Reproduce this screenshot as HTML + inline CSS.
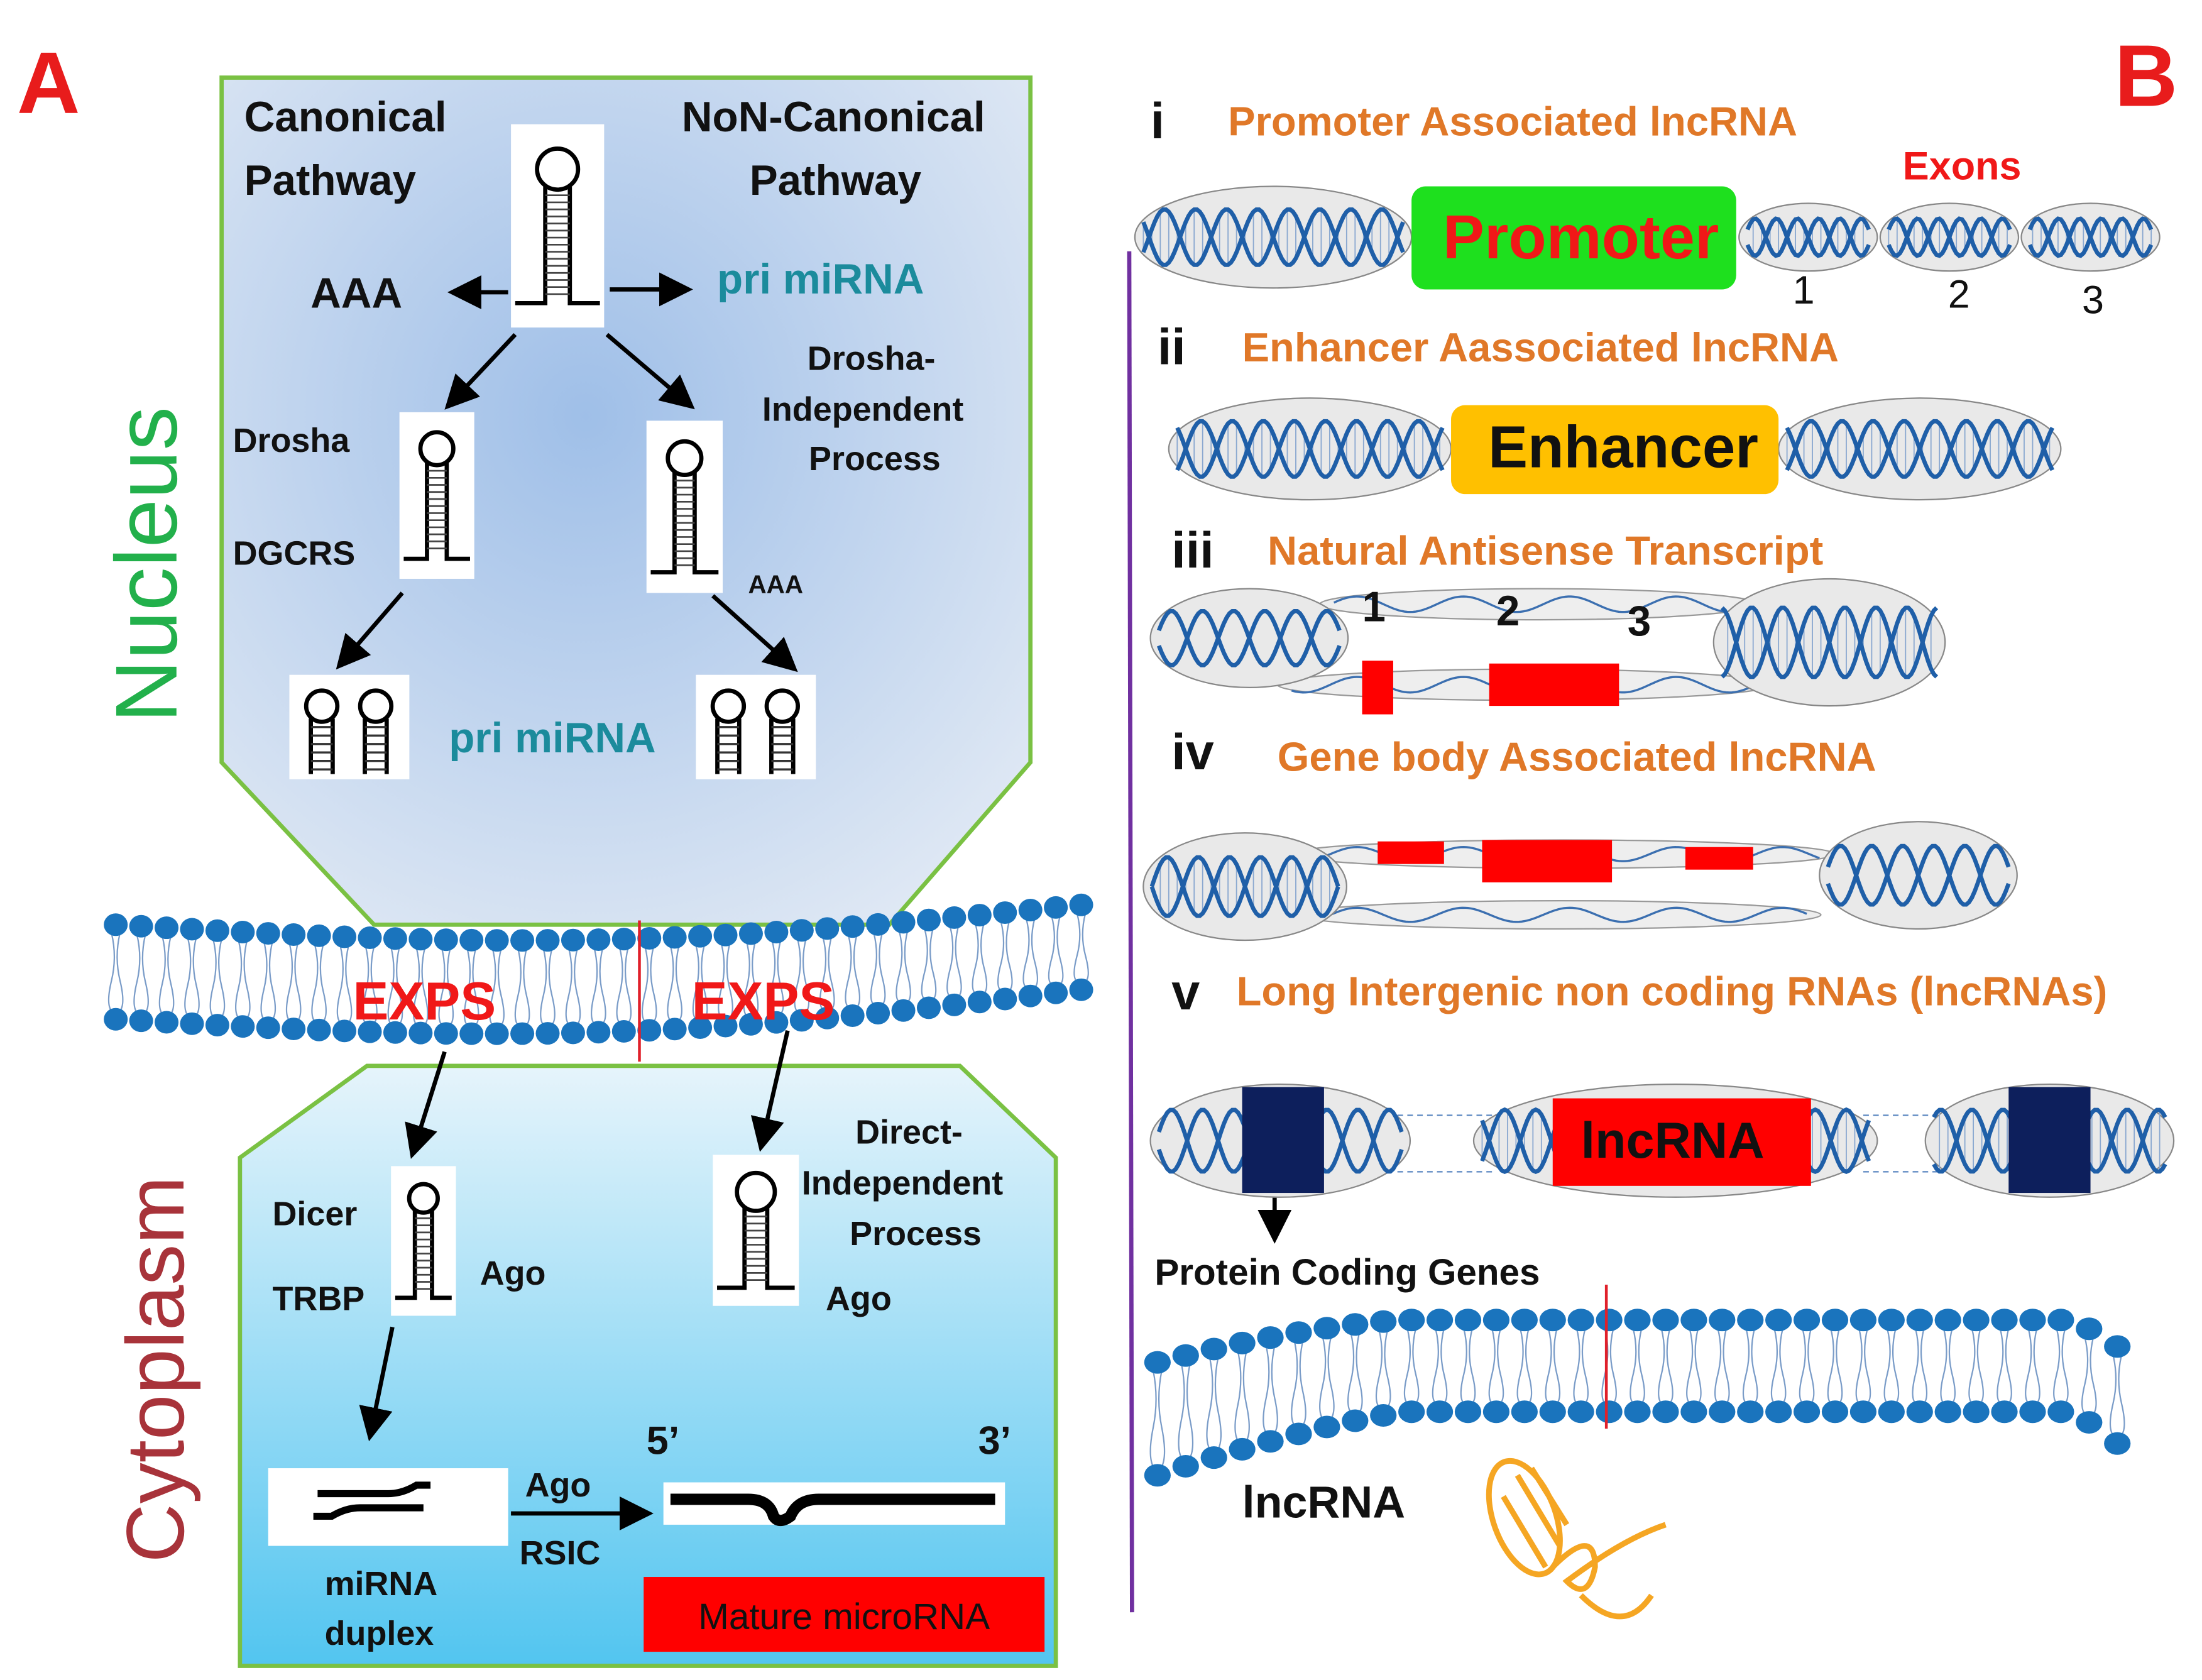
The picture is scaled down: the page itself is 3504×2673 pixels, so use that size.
<!DOCTYPE html>
<html><head><meta charset="utf-8">
<style>
html,body{margin:0;padding:0;background:#fff;}
svg{display:block;}
text{font-family:"Liberation Sans",sans-serif;}
.b{font-weight:bold;}
</style></head>
<body>
<svg id="s" xmlns="http://www.w3.org/2000/svg" width="3504" height="2673" viewBox="0 0 1560 1190" preserveAspectRatio="none">
<defs>
<radialGradient id="ng" cx="0.45" cy="0.4" r="0.7">
<stop offset="0" stop-color="#9fbfe8"/><stop offset="1" stop-color="#dfe8f4"/>
</radialGradient>
<linearGradient id="cg" x1="0" y1="0" x2="0" y2="1">
<stop offset="0" stop-color="#e6f4fb"/><stop offset="1" stop-color="#52c5f0"/>
</linearGradient>
<marker id="ar" markerWidth="8" markerHeight="8" refX="7" refY="4" orient="auto" markerUnits="strokeWidth">
<path d="M0,0 L8,4 L0,8 z" fill="#000"/></marker>
</defs>
<rect width="1560" height="1190" fill="#fff"/>
<text x="12" y="80" font-size="62" fill="#e81c1c" class="b">A</text>
<text x="1498" y="75" font-size="62" fill="#e81c1c" class="b">B</text>

<polygon points="157,55 730,55 730,540 630,655 265,655 157,540" fill="url(#ng)" stroke="#7ac143" stroke-width="3"/>
<polygon points="170,1180 170,820 260,755 680,755 748,820 748,1180" fill="url(#cg)" stroke="#7ac143" stroke-width="3"/>

<g id="mem"></g>

<text transform="translate(125,400) rotate(-90)" text-anchor="middle" font-size="62" fill="#22b04b">Nucleus</text>
<text transform="translate(130,970) rotate(-90)" text-anchor="middle" font-size="58" fill="#a8333a">Cytoplasm</text>

<g class="b" font-size="30" fill="#111">
<text x="173" y="93">Canonical</text><text x="173" y="138">Pathway</text>
<text x="483" y="93">NoN-Canonical</text><text x="531" y="138">Pathway</text>
<text x="220" y="218">AAA</text>
</g>
<text x="508" y="208" font-size="30" class="b" fill="#1b8b9c">pri miRNA</text>
<text x="318" y="533" font-size="30" class="b" fill="#1b8b9c">pri miRNA</text>
<g class="b" font-size="24" fill="#111">
<text x="165" y="320">Drosha</text><text x="165" y="400">DGCRS</text>
<text x="572" y="262">Drosha-</text><text x="540" y="298">Independent</text><text x="573" y="333">Process</text>
<text x="530" y="420" font-size="18">AAA</text>
<text x="193" y="868">Dicer</text><text x="193" y="928">TRBP</text><text x="340" y="910">Ago</text>
<text x="606" y="810">Direct-</text><text x="568" y="846">Independent</text><text x="602" y="882">Process</text>
<text x="585" y="928">Ago</text>
<text x="230" y="1130">miRNA</text><text x="230" y="1165">duplex</text>
<text x="372" y="1060">Ago</text><text x="368" y="1108">RSIC</text>
<text x="458" y="1030" font-size="28">5’</text><text x="693" y="1030" font-size="28">3’</text>
</g>

<g id="hp"></g>

<g stroke="#000" stroke-width="3" marker-end="url(#ar)" fill="none">
<line x1="360" y1="207" x2="320" y2="207"/>
<line x1="432" y1="205" x2="488" y2="205"/>
<line x1="365" y1="237" x2="317" y2="288"/>
<line x1="430" y1="237" x2="490" y2="288"/>
<line x1="285" y1="420" x2="240" y2="472"/>
<line x1="505" y1="422" x2="563" y2="474"/>
<line x1="315" y1="745" x2="292" y2="818"/>
<line x1="558" y1="730" x2="539" y2="813"/>
<line x1="278" y1="940" x2="262" y2="1018"/>
<line x1="362" y1="1072" x2="460" y2="1072"/>
<line x1="903" y1="828" x2="903" y2="878"/>
</g>

<rect x="190" y="1040" width="170" height="55" fill="#fff"/>
<g stroke="#000" stroke-width="5" fill="none"><path d="M225,1058 H275 Q285,1058 295,1052 H305"/><path d="M222,1074 H235 Q245,1068 255,1068 H300"/></g>
<rect x="470" y="1050" width="242" height="30" fill="#fff"/>
<path d="M475,1062 H530 Q545,1062 548,1074 Q552,1080 560,1074 Q565,1062 580,1062 H705" stroke="#000" stroke-width="8" fill="none"/>
<rect x="456" y="1117" width="284" height="53" fill="#ff0000"/>
<text x="598" y="1154" text-anchor="middle" font-size="26" fill="#111">Mature microRNA</text>

<text x="250" y="722" font-size="38" class="b" fill="#f01818">EXPS</text>
<text x="490" y="722" font-size="38" class="b" fill="#f01818">EXPS</text>

<line x1="800" y1="178" x2="802" y2="1142" stroke="#7030a0" stroke-width="3"/>

<g id="dna"></g>

<g class="b" font-size="36" fill="#111">
<text x="815" y="98">i</text><text x="820" y="258">ii</text><text x="830" y="402">iii</text><text x="830" y="545">iv</text><text x="830" y="715">v</text>
</g>
<g class="b" font-size="29" fill="#e07828">
<text x="870" y="96">Promoter Associated lncRNA</text>
<text x="880" y="256">Enhancer Aassociated lncRNA</text>
<text x="898" y="400">Natural Antisense Transcript</text>
<text x="905" y="546">Gene body Associated lncRNA</text>
<text x="876" y="712">Long Intergenic non coding RNAs (lncRNAs)</text>
</g>
<text x="1348" y="127" font-size="28" class="b" fill="#f01818">Exons</text>
<rect x="1000" y="132" width="230" height="73" rx="10" fill="#1ee01e"/>
<text x="1120" y="183" text-anchor="middle" font-size="44" class="b" fill="#f01818">Promoter</text>
<g font-size="28" fill="#111"><text x="1270" y="215">1</text><text x="1380" y="218">2</text><text x="1475" y="222">3</text></g>
<rect x="1028" y="287" width="232" height="63" rx="10" fill="#ffc000"/>
<text x="1150" y="331" text-anchor="middle" font-size="42" class="b" fill="#111">Enhancer</text>
<rect x="965" y="468" width="22" height="38" fill="#f00"/>
<rect x="1055" y="470" width="92" height="30" fill="#f00"/>
<g class="b" font-size="30" fill="#111"><text x="965" y="440">1</text><text x="1060" y="443">2</text><text x="1153" y="450">3</text></g>
<rect x="976" y="596" width="47" height="16" fill="#f00"/>
<rect x="1050" y="595" width="92" height="30" fill="#f00"/>
<rect x="1194" y="600" width="48" height="16" fill="#f00"/>
<rect x="880" y="770" width="58" height="75" fill="#0d1f5c"/>
<rect x="1423" y="770" width="58" height="75" fill="#0d1f5c"/>
<rect x="1100" y="778" width="183" height="62" fill="#f00"/>
<text x="1185" y="820" text-anchor="middle" font-size="36" class="b" fill="#111">lncRNA</text>
<text x="818" y="910" font-size="26" class="b" fill="#111">Protein Coding Genes</text>
<text x="880" y="1075" font-size="32" class="b" fill="#111">lncRNA</text>
<g stroke="#f5a623" stroke-width="4" fill="none">
<ellipse cx="1080" cy="1075" rx="22" ry="42" transform="rotate(-20 1080 1075)"/>
<path d="M1075,1045 L1105,1095 M1065,1060 L1095,1110 M1085,1040 L1110,1080"/>
<path d="M1100,1110 Q1130,1080 1130,1110 Q1125,1135 1110,1120 Q1150,1090 1180,1080"/>
<path d="M1120,1130 Q1150,1160 1170,1130"/>
</g>
</svg>
<script>
var NS="http://www.w3.org/2000/svg";
function el(p,t,a){var e=document.createElementNS(NS,t);for(var k in a)e.setAttribute(k,a[k]);p.appendChild(e);return e;}
var mem=document.getElementById('mem');
function membrane(x0,x1,ft,fb,step,redx,y1,y2){
 for(var x=x0;x<=x1;x+=step){
  var yt=ft(x),yb=fb(x);
  el(mem,'path',{d:'M'+(x-3)+','+(yt+6)+' q4,'+((yb-yt)/4)+' 0,'+((yb-yt)/2)+' q-4,'+((yb-yt)/4)+' 0,'+((yb-yt)/2-12),stroke:'#7a9cc8','stroke-width':1,fill:'none'});
  el(mem,'path',{d:'M'+(x+3)+','+(yt+6)+' q-4,'+((yb-yt)/4)+' 0,'+((yb-yt)/2)+' q4,'+((yb-yt)/4)+' 0,'+((yb-yt)/2-12),stroke:'#7a9cc8','stroke-width':1,fill:'none'});
 }
 for(var x=x0;x<=x1;x+=step){
  el(mem,'ellipse',{cx:x,cy:ft(x),rx:step*0.47,ry:8,fill:'#1a74bd'});
  el(mem,'ellipse',{cx:x,cy:fb(x),rx:step*0.47,ry:8,fill:'#1a74bd'});
 }
 el(mem,'line',{x1:redx,y1:y1,x2:redx,y2:y2,stroke:'#e0202a','stroke-width':2});
}
membrane(82,775,function(x){var t=(x-82)/693;return 655+18*Math.sin(Math.PI*t)-15*t;},function(x){var t=(x-82)/693;return 722+20*Math.sin(Math.PI*t)-22*t;},18,453,652,752);
membrane(820,1510,function(x){if(x<1000)return 935+30*Math.pow((1000-x)/180,1.5);if(x>1470)return 935+25*(x-1470)/40;return 935;},
 function(x){if(x<1000)return 1000+45*Math.pow((1000-x)/180,1.3);if(x>1470)return 1000+30*(x-1470)/40;return 1000;},20,1138,910,1012);

var dna=document.getElementById('dna');
function helix(cx,cy,rx,ry,per){
 el(dna,'ellipse',{cx:cx,cy:cy,rx:rx,ry:ry,fill:'#e9e9e9',stroke:'#888','stroke-width':1});
 per=per||44;var a=ry*0.55,d1='',d2='';
 for(var x=cx-rx+6;x<=cx+rx-6;x+=2){
  var ph=(x-cx)/per*2*Math.PI;
  var y1=cy+a*Math.sin(ph),y2=cy-a*Math.sin(ph);
  d1+=(d1?'L':'M')+x.toFixed(1)+','+y1.toFixed(1);
  d2+=(d2?'L':'M')+x.toFixed(1)+','+y2.toFixed(1);
  if(Math.round(x)%6==0) el(dna,'line',{x1:x,y1:y1,x2:x,y2:y2,stroke:'#8aa8d0','stroke-width':0.8});
 }
 el(dna,'path',{d:d1,stroke:'#1f5fa8','stroke-width':3,fill:'none'});
 el(dna,'path',{d:d2,stroke:'#1f5fa8','stroke-width':3,fill:'none'});
}
function strand(x0,x1,cy,h){el(dna,'ellipse',{cx:(x0+x1)/2,cy:cy,rx:(x1-x0)/2,ry:h,fill:'#eee',stroke:'#999','stroke-width':1});
 var d='';for(var x=x0+10;x<=x1-10;x+=2){d+=(d?'L':'M')+x+','+(cy+h*0.5*Math.sin(x/12));}
 el(dna,'path',{d:d,stroke:'#3b6fb0','stroke-width':1.5,fill:'none'});}
helix(902,168,98,36);
helix(1281,168,49,24,30);helix(1381,168,49,24,30);helix(1481,168,49,24,30);
helix(928,318,100,36);helix(1360,318,100,36);
strand(935,1245,428,11);strand(905,1255,485,11);
helix(885,452,70,35);helix(1296,455,82,45);
strand(915,1300,605,10);strand(920,1290,648,10);
helix(882,628,72,38);helix(1359,620,70,38);
el(dna,'line',{x1:990,y1:790,x2:1060,y2:790,stroke:'#5a86c0','stroke-dasharray':'4,3'});
el(dna,'line',{x1:990,y1:830,x2:1060,y2:830,stroke:'#5a86c0','stroke-dasharray':'4,3'});
el(dna,'line',{x1:1320,y1:790,x2:1375,y2:790,stroke:'#5a86c0','stroke-dasharray':'4,3'});
el(dna,'line',{x1:1320,y1:830,x2:1375,y2:830,stroke:'#5a86c0','stroke-dasharray':'4,3'});
helix(907,808,92,40);helix(1187,808,143,40);helix(1452,808,88,40);
var s=document.getElementById('s');
s.insertBefore(dna, s.querySelector('rect[x="1000"]'));

var hp=document.getElementById('hp');
function hairpin(x,y,w,h){
 el(hp,'rect',{x:x,y:y,width:w,height:h,fill:'#fff'});
 var cx=x+w/2,r=w*0.22,top=y+h*0.12,st=top+2*r,bot=y+h*0.88;
 el(hp,'circle',{cx:cx,cy:top+r,r:r,fill:'none',stroke:'#000','stroke-width':3});
 el(hp,'path',{d:'M'+(cx-r*0.6)+','+(st-2)+' V'+bot+' H'+(x+3)+' M'+(cx+r*0.6)+','+(st-2)+' V'+bot+' H'+(x+w-3),stroke:'#000','stroke-width':3,fill:'none'});
 for(var yy=st+4;yy<bot-4;yy+=5) el(hp,'line',{x1:cx-r*0.6,y1:yy,x2:cx+r*0.6,y2:yy,stroke:'#444','stroke-width':1.2});
}
function dbl(x,y,w,h){
 el(hp,'rect',{x:x,y:y,width:w,height:h,fill:'#fff'});
 [x+w*0.27,x+w*0.72].forEach(function(cx){
  var r=w*0.13;el(hp,'circle',{cx:cx,cy:y+h*0.3,r:r,fill:'none',stroke:'#000','stroke-width':3});
  el(hp,'path',{d:'M'+(cx-r*0.7)+','+(y+h*0.42)+' V'+(y+h*0.95)+' M'+(cx+r*0.7)+','+(y+h*0.42)+' V'+(y+h*0.95),stroke:'#000','stroke-width':3,fill:'none'});
  for(var yy=y+h*0.5;yy<y+h*0.95;yy+=6) el(hp,'line',{x1:cx-r*0.7,y1:yy,x2:cx+r*0.7,y2:yy,stroke:'#333','stroke-width':1.5});
 });
}
hairpin(362,88,66,144);hairpin(283,292,53,118);hairpin(458,298,54,122);
hairpin(277,826,46,106);hairpin(505,818,61,107);
dbl(205,478,85,74);dbl(493,478,85,74);
</script>
</body></html>
